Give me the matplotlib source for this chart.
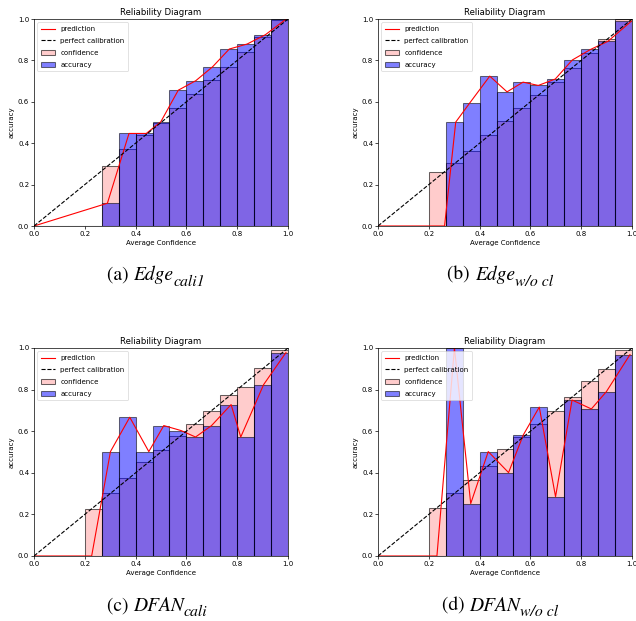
import numpy as np
import matplotlib
matplotlib.use("Agg")
import matplotlib.pyplot as plt
from matplotlib.lines import Line2D
from matplotlib.patches import Patch

plt.rcParams['mathtext.fontset'] = 'stix'

n_bins = 15

conf_a = [0, 0, 0, 0, 0.289, 0.374, 0.442, 0.499, 0.568, 0.637, 0.703, 0.769, 0.839, 0.911, 0.993]
acc_a  = [0, 0, 0, 0, 0.110, 0.447, 0.447, 0.503, 0.656, 0.702, 0.769, 0.855, 0.879, 0.924, 1.000]

conf_b = [0, 0, 0, 0.262, 0.306, 0.361, 0.440, 0.508, 0.571, 0.631, 0.698, 0.765, 0.837, 0.905, 0.998]
acc_b  = [0, 0, 0, 0.000, 0.502, 0.594, 0.724, 0.648, 0.695, 0.679, 0.710, 0.802, 0.853, 0.892, 0.990]

conf_c = [0, 0, 0, 0.227, 0.301, 0.377, 0.452, 0.511, 0.579, 0.636, 0.699, 0.776, 0.814, 0.904, 0.992]
acc_c  = [0, 0, 0, 0.000, 0.502, 0.667, 0.502, 0.627, 0.603, 0.572, 0.627, 0.728, 0.572, 0.824, 0.978]

conf_d = [0, 0, 0, 0.232, 0.301, 0.365, 0.434, 0.514, 0.572, 0.635, 0.699, 0.764, 0.840, 0.899, 0.992]
acc_d  = [0, 0, 0, 0.000, 1.000, 0.252, 0.502, 0.401, 0.582, 0.716, 0.285, 0.750, 0.707, 0.790, 0.968]

cap_labels = ["(a)", "(b)", "(c)", "(d)"]
cap_names = ["Edge", "Edge", "DFAN", "DFAN"]
cap_subs = ["cali1", "w/o cl", "cali", "w/o cl"]

panels = [(conf_a, acc_a), (conf_b, acc_b), (conf_c, acc_c), (conf_d, acc_d)]

W, H = 636, 621
fig = plt.figure(figsize=(W / 100, H / 100), dpi=100)

# axes pixel boxes: (left, top, right, bottom)
boxes = [(34, 19, 288, 226), (378, 19, 632, 226),
         (34, 348, 288, 556), (378, 348, 632, 556)]
cap_pos = [(156, 280), (500, 280), (157, 611), (500, 611)]

conf_face = (1, 0, 0, 0.2)
conf_edge = (0, 0, 0, 0.6)
acc_face = (0, 0, 1, 0.5)
acc_edge = (0, 0, 0, 0.55)

edges = np.linspace(0, 1, n_bins + 1)[:-1]
width = 1.0 / n_bins

fs = 5
for (conf, acc), box in zip(panels, boxes):
    l, t, r, b = box
    ax = fig.add_axes([l / W, 1 - b / H, (r - l) / W, (b - t) / H])
    ax.bar(edges, conf, width=width, align='edge', color=conf_face,
           edgecolor=conf_edge, linewidth=0.75)
    ax.bar(edges, acc, width=width, align='edge', color=acc_face,
           edgecolor=acc_edge, linewidth=0.75)
    ax.plot(conf, acc, color='red', linewidth=0.8)
    ax.plot([0, 1], [0, 1], '--', color='black', linewidth=0.8)
    ax.set_xlim(0, 1)
    ax.set_ylim(0, 1)
    ax.set_xticks(np.linspace(0, 1, 6))
    ax.set_yticks(np.linspace(0, 1, 6))
    ax.tick_params(labelsize=fs, length=2, width=0.5, pad=1.5)
    for s in ax.spines.values():
        s.set_linewidth(0.5)
    ax.set_title("Reliability Diagram", fontsize=6.1, pad=3)
    ax.set_xlabel("Average Confidence", fontsize=fs, labelpad=2.5)
    ax.set_ylabel("accuracy", fontsize=fs, labelpad=2)
    handles = [
        Line2D([], [], color='red', linewidth=0.8),
        Line2D([], [], color='black', linestyle='--', linewidth=0.8),
        Patch(facecolor=conf_face, edgecolor=conf_edge, linewidth=0.75),
        Patch(facecolor=acc_face, edgecolor=acc_edge, linewidth=0.75),
    ]
    leg = ax.legend(handles, ["prediction", "perfect calibration", "confidence", "accuracy"],
                    loc='upper left', fontsize=fs, framealpha=0.8,
                    borderaxespad=0.5, handlelength=2.0, labelspacing=0.85,
                    borderpad=0.5)
    leg.get_frame().set_linewidth(0.5)

# captions: "(x) Name" with a larger-than-usual italic subscript
renderer = fig.canvas.get_renderer()
main_fs = 14
sub_fs = 11.3
for lab, name, sub, cp in zip(cap_labels, cap_names, cap_subs, cap_pos):
    y = 1 - cp[1] / H
    t1 = fig.text(0, y, lab + " ", ha='left', va='baseline', fontsize=main_fs,
                  family='STIXGeneral')
    t2 = fig.text(0, y, name, ha='left', va='baseline', fontsize=main_fs,
                  family='STIXGeneral', style='italic')
    t3 = fig.text(0, y - 5.5 / H, sub, ha='left', va='baseline', fontsize=sub_fs,
                  family='STIXGeneral', style='italic')
    w1 = t1.get_window_extent(renderer).width
    w2 = t2.get_window_extent(renderer).width
    w3 = t3.get_window_extent(renderer).width
    x0 = cp[0] - (w1 + w2 + w3) / 2
    t1.set_x(x0 / W)
    t2.set_x((x0 + w1) / W)
    t3.set_x((x0 + w1 + w2) / W)

fig.savefig("out.png", dpi=100)
